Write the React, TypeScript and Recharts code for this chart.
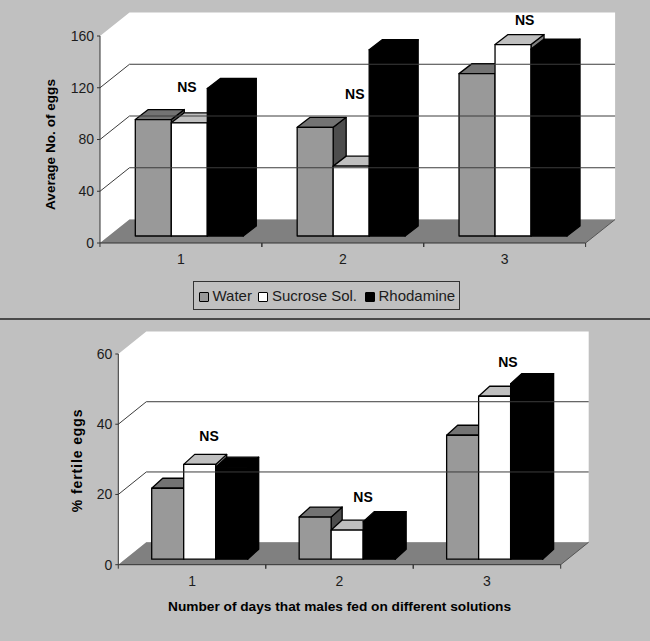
import React from 'react';
import {
  ComposedChart, Bar, XAxis, YAxis, Legend, ReferenceArea, ReferenceLine, ReferenceDot,
} from 'recharts';

const days = ['1', '2', '3'];
const seriesNames = ['Water', 'Sucrose Sol.', 'Rhodamine'];

const eggsWater = [90, 84, 125.5];
const eggsSucrose = [87.5, 54, 148];
const eggsRhodamine = [114, 144, 144.5];
const eggsTicks = [0, 40, 80, 120, 160];
const eggsNsHeights = [120.4, 115.2, 172.4];

const fertileWater = [20.2, 12, 35.3];
const fertileSucrose = [27, 8.3, 46.4];
const fertileRhodamine = [26.2, 10.7, 50];
const fertileTicks = [0, 20, 40, 60];
const fertileNsHeights = [36.7, 19.2, 57.7];

const BG = '#c0c0c0';
const INK = '#1c1c1c';
const FONT = '"Liberation Sans", Arial, sans-serif';

const TONES: Record<string, { front: string; top: string; side: string }> = {
  Water: { front: '#999999', top: '#737373', side: '#4d4d4d' },
  'Sucrose Sol.': { front: '#ffffff', top: '#bfbfbf', side: '#808080' },
  Rhodamine: { front: '#000000', top: '#000000', side: '#000000' },
};

const toRows = (a: number[], b: number[], c: number[]) =>
  days.map((day, i) => ({ day, Water: a[i], 'Sucrose Sol.': b[i], Rhodamine: c[i] }));

// 3D box: front face sits a bit behind the axis plane
const Box = ({ x, y, width, height, name, shift, depth }: any) => {
  const tone = TONES[name];
  const l = x + shift[0];
  const r = l + width;
  const t = y + shift[1];
  const b = t + height;
  const [dx, dy] = depth;
  return (
    <g stroke="#000" strokeWidth={1.3} strokeLinejoin="round">
      <polygon points={`${r},${t} ${r + dx},${t - dy} ${r + dx},${b - dy} ${r},${b}`} fill={tone.side} />
      <polygon points={`${l},${t} ${l + dx},${t - dy} ${r + dx},${t - dy} ${r},${t}`} fill={tone.top} />
      <rect x={l} y={t} width={width} height={height} fill={tone.front} />
    </g>
  );
};

const Room = ({ x, y, width, height, wall }: any) => {
  const [dx, dy] = wall;
  const right = x + width;
  const bottom = y + height;
  return (
    <g>
      <polygon
        points={`${x},${y} ${x + dx},${y - dy} ${right + dx},${y - dy} ${right + dx},${bottom - dy} ${x + dx},${bottom - dy} ${x},${bottom}`}
        fill="#ffffff"
      />
      <polygon
        points={`${x},${bottom} ${x + dx},${bottom - dy} ${right + dx},${bottom - dy} ${right},${bottom}`}
        fill="#808080"
      />
      <line x1={right} y1={bottom} x2={right + dx} y2={bottom - dy} stroke="#555" strokeWidth={1} />
    </g>
  );
};

const WallLine = ({ x1, x2, y1, wall }: any) => {
  const [dx, dy] = wall;
  return (
    <polyline
      points={`${x1},${y1} ${x1 + dx},${y1 - dy} ${x2 + dx},${y1 - dy}`}
      fill="none"
      stroke="#3c3c3c"
      strokeWidth={1}
    />
  );
};

const DayTick = ({ x, y, payload, band }: any) => (
  <g>
    <line x1={x - band / 2} y1={y - 8} x2={x - band / 2} y2={y - 4} stroke="#333" />
    <line x1={x + band / 2} y1={y - 8} x2={x + band / 2} y2={y - 4} stroke="#333" />
    <text x={x} y={y + 13} textAnchor="middle" fontSize={14} fontFamily={FONT} fill={INK}>
      {payload.value}
    </text>
  </g>
);

const NsMark = ({ cx, cy, nudge }: any) => (
  <text x={cx + nudge} y={cy + 5} textAnchor="middle" fontSize={14} fontWeight="bold" fontFamily={FONT} fill="#000">
    NS
  </text>
);

const YTitle = ({ viewBox, text, x, shiftY, size, spacing }: any) => {
  const cy = viewBox.y + viewBox.height / 2 + shiftY;
  return (
    <text
      x={x}
      y={cy}
      transform={`rotate(-90 ${x} ${cy})`}
      textAnchor="middle"
      fontSize={size}
      fontWeight="bold"
      fontFamily={FONT}
      letterSpacing={spacing}
      fill="#000"
    >
      {text}
    </text>
  );
};

const LegendBox = () => (
  <div
    style={{
      boxSizing: 'border-box',
      width: 267,
      height: 29,
      border: '1px solid #333',
      display: 'flex',
      alignItems: 'center',
      paddingLeft: 5,
      fontFamily: FONT,
      fontSize: 15,
      color: INK,
      whiteSpace: 'nowrap',
    }}
  >
    {seriesNames.map((n, i) => (
      <span key={n} style={{ display: 'flex', flex: 'none', alignItems: 'center', marginRight: i === 0 ? 6.5 : 8 }}>
        <span
          style={{
            width: 8,
            height: 8,
            border: '1px solid #000',
            borderRadius: 1,
            background: TONES[n].front,
            marginRight: 3.5,
            marginTop: 2,
          }}
        />
        {n}
      </span>
    ))}
  </div>
);

const Panel = ({
  rows, ticks, max, nsHeights, nsNudges, height, margin, band, gap, barShift, barDepth, wall,
  yLabel, yLabelX, yLabelShift, yLabelSize, yLabelSpacing, xLabel, legend,
}: any) => (
  <ComposedChart
    width={650}
    height={height}
    data={rows}
    margin={margin}
    barGap={0}
    barCategoryGap={gap}
    style={{ display: 'block' }}
  >
    <ReferenceArea y1={0} y2={max} shape={(p: any) => <Room {...p} wall={wall} />} ifOverflow="visible" />
    {ticks.slice(1, -1).map((t: number) => (
      <ReferenceLine key={t} y={t} shape={(p: any) => <WallLine {...p} wall={wall} />} ifOverflow="visible" />
    ))}
    <XAxis
      dataKey="day"
      height={40}
      axisLine={{ stroke: '#333' }}
      tickLine={false}
      interval={0}
      tick={(p: any) => <DayTick {...p} band={band} />}
      label={
        xLabel
          ? { value: xLabel, position: 'insideBottom', offset: -6, fontSize: 13.7, fontWeight: 'bold', fontFamily: FONT, fill: '#000' }
          : undefined
      }
    />
    <YAxis
      domain={[0, max]}
      ticks={ticks}
      width={margin.yWidth}
      axisLine={{ stroke: '#333' }}
      tickLine={{ stroke: '#333' }}
      tickSize={3}
      tickMargin={3}
      interval={0}
      tick={{ fontSize: 14, fontFamily: FONT, fill: INK }}
      label={{
        position: 'center',
        content: (p: any) => (
          <YTitle {...p} text={yLabel} x={yLabelX} shiftY={yLabelShift} size={yLabelSize} spacing={yLabelSpacing} />
        ),
      }}
    />
    {legend && <Legend content={<LegendBox />} wrapperStyle={{ left: 193, bottom: 'auto', top: 281, width: 267 }} />}
    {seriesNames.map((n) => (
      <Bar
        key={n}
        dataKey={n}
        name={n}
        isAnimationActive={false}
        shape={(p: any) => <Box {...p} name={n} shift={barShift} depth={barDepth} />}
      />
    ))}
    {days.map((d, i) => (
      <ReferenceDot
        key={d}
        x={d}
        y={nsHeights[i]}
        ifOverflow="visible"
        shape={(p: any) => <NsMark {...p} nudge={nsNudges[i]} />}
      />
    ))}
  </ComposedChart>
);

export default function App() {
  return (
    <div style={{ position: 'absolute', left: 0, top: 0, width: 650, height: 641, background: BG, overflow: 'hidden' }}>
      <Panel
        rows={toRows(eggsWater, eggsSucrose, eggsRhodamine)}
        ticks={eggsTicks}
        max={160}
        nsHeights={eggsNsHeights}
        nsNudges={[6, 12, 20]}
        height={318}
        margin={{ top: 36, right: 64.4, bottom: 6, left: 0, yWidth: 100 }}
        band={161.9}
        gap={27}
        barShift={[8.3, -7]}
        barDepth={[13, 10]}
        wall={[29.5, 23.5]}
        yLabel="Average No. of eggs"
        yLabelX={55}
        yLabelShift={5}
        yLabelSize={13.6}
        yLabelSpacing={0}
        legend
      />
      <div style={{ height: 2, background: '#4a4a4a' }} />
      <Panel
        rows={toRows(fertileWater, fertileSucrose, fertileRhodamine)}
        ticks={fertileTicks}
        max={60}
        nsHeights={fertileNsHeights}
        nsNudges={[17, 23.5, 21]}
        height={321}
        margin={{ top: 34, right: 89.3, bottom: 36.3, left: 0, yWidth: 118.3 }}
        band={147.5}
        gap={25}
        barShift={[8.4, -5.5]}
        barDepth={[11, 10]}
        wall={[28, 22.5]}
        yLabel="% fertile eggs"
        yLabelX={82}
        yLabelShift={1}
        yLabelSize={14}
        yLabelSpacing={0.9}
        xLabel="Number of days that males fed on different solutions"
      />
    </div>
  );
}
